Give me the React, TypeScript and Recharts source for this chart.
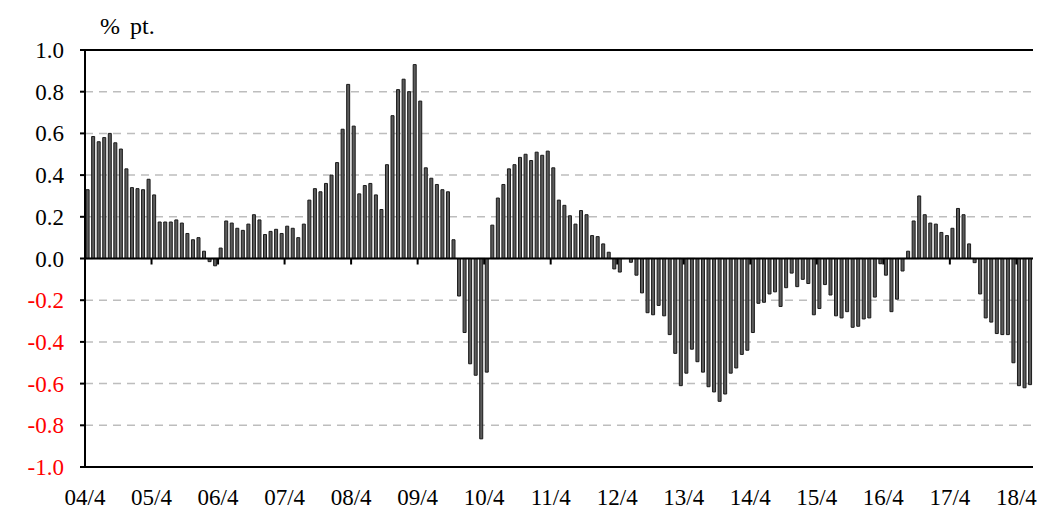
import { BarChart, Bar, XAxis, YAxis, CartesianGrid, ReferenceLine } from "recharts";

// monthly values, 2004/4 .. 2018/6
const values = [
  0.33, 0.585, 0.56, 0.58, 0.6, 0.555, 0.525, 0.43, 0.34, 0.335, 0.33, 0.38,
  0.305, 0.175, 0.175, 0.175, 0.185, 0.17, 0.12, 0.09, 0.1, 0.035, -0.015, -0.035,
  0.05, 0.18, 0.17, 0.145, 0.135, 0.165, 0.21, 0.185, 0.115, 0.13, 0.14, 0.12,
  0.155, 0.145, 0.1, 0.165, 0.28, 0.335, 0.32, 0.36, 0.4, 0.46, 0.62, 0.835,
  0.635, 0.31, 0.35, 0.36, 0.305, 0.235, 0.45, 0.685, 0.81, 0.86, 0.8, 0.93,
  0.755, 0.435, 0.385, 0.355, 0.33, 0.32, 0.09, -0.18, -0.355, -0.505, -0.56, -0.865,
  -0.545, 0.16, 0.29, 0.355, 0.43, 0.45, 0.485, 0.5, 0.47, 0.51, 0.495, 0.515,
  0.435, 0.28, 0.255, 0.205, 0.165, 0.23, 0.21, 0.11, 0.105, 0.07, 0.03, -0.05,
  -0.065, 0, -0.018, -0.08, -0.165, -0.26, -0.27, -0.225, -0.275, -0.365, -0.455, -0.61,
  -0.55, -0.435, -0.495, -0.545, -0.615, -0.64, -0.685, -0.65, -0.55, -0.525, -0.46, -0.44,
  -0.355, -0.215, -0.21, -0.17, -0.16, -0.23, -0.14, -0.07, -0.135, -0.1, -0.12, -0.27,
  -0.24, -0.125, -0.175, -0.275, -0.285, -0.255, -0.33, -0.325, -0.29, -0.285, -0.185, -0.025,
  -0.08, -0.255, -0.195, -0.06, 0.035, 0.18, 0.3, 0.21, 0.17, 0.165, 0.125, 0.11,
  0.145, 0.24, 0.21, 0.07, -0.02, -0.17, -0.285, -0.305, -0.36, -0.365, -0.365, -0.5,
  -0.61, -0.62, -0.605,
];

const tickLabels = [
  "04/4", "05/4", "06/4", "07/4", "08/4", "09/4", "10/4", "11/4",
  "12/4", "13/4", "14/4", "15/4", "16/4", "17/4", "18/4",
];

const yTicks = [-1, -0.8, -0.6, -0.4, -0.2, 0, 0.2, 0.4, 0.6, 0.8, 1];

// month labels "yy/m" starting April 2004
const months = values.map((_, i) => {
  const m = ((3 + i) % 12) + 1;
  const y = 4 + Math.floor((3 + i) / 12);
  return `${String(y).padStart(2, "0")}/${m}`;
});

const data = months.map((month, i) => ({ month, value: values[i] }));

const W = 1046;
const H = 511;
const margin = { top: 50, right: 13, bottom: 0, left: 25 };
const yAxisWidth = 60;
const xAxisHeight = 44;
const plotW = W - margin.left - margin.right - yAxisWidth;
const plotH = H - margin.top - margin.bottom - xAxisHeight;
const step = plotW / values.length;
const zeroY = margin.top + plotH * (1 - (0 - -1) / 2);

const font = "'Liberation Serif', 'Times New Roman', serif";

const XTick = (props: any) => {
  const { x, payload } = props;
  const bx = x - step / 2;
  return (
    <g>
      <line x1={bx} x2={bx} y1={zeroY} y2={zeroY + 6} stroke="#000" strokeWidth={2} />
      <text x={bx} y={H - 6} textAnchor="middle" fontSize={23} fontFamily={font} fill="#000">
        {payload.value}
      </text>
    </g>
  );
};

const YTick = (props: any) => {
  const { x, y, payload } = props;
  const v = payload.value as number;
  return (
    <text x={x} y={y} dy={8} textAnchor="end" fontSize={23} fontFamily={font} fill={v < 0 ? "#ff0000" : "#000"}>
      {v.toFixed(1)}
    </text>
  );
};

export default function App() {
  return (
    <div style={{ position: "absolute", left: 0, top: 0, width: W, height: H, background: "#fff" }}>
      <div style={{ position: "absolute", left: 100, top: 13, fontSize: 24, fontFamily: font, color: "#000", wordSpacing: 4 }}>
        % pt.
      </div>
      <BarChart width={W} height={H} data={data} margin={margin} barCategoryGap="20%">
        <CartesianGrid vertical={false} stroke="#bdbdbd" strokeDasharray="8 6" strokeWidth={1.5} />
        <XAxis
          dataKey="month"
          ticks={tickLabels}
          interval={0}
          height={xAxisHeight}
          tick={<XTick />}
          tickLine={false}
          axisLine={{ stroke: "#000", strokeWidth: 2 }}
        />
        <YAxis
          domain={[-1, 1]}
          ticks={yTicks}
          width={yAxisWidth}
          interval={0}
          tick={<YTick />}
          tickSize={5}
          tickMargin={16}
          tickLine={{ stroke: "#000", strokeWidth: 2 }}
          axisLine={{ stroke: "#000", strokeWidth: 2 }}
          allowDataOverflow
        />
        <YAxis
          yAxisId="right"
          orientation="right"
          width={0}
          tick={false}
          tickLine={false}
          axisLine={{ stroke: "#000", strokeWidth: 2 }}
        />
        <Bar dataKey="value" fill="#5c5c5c" stroke="#1a1a1a" strokeWidth={1} isAnimationActive={false} />
        <ReferenceLine y={1} stroke="#000" strokeWidth={2} />
        <ReferenceLine y={0} stroke="#000" strokeWidth={2} />
      </BarChart>
    </div>
  );
}
